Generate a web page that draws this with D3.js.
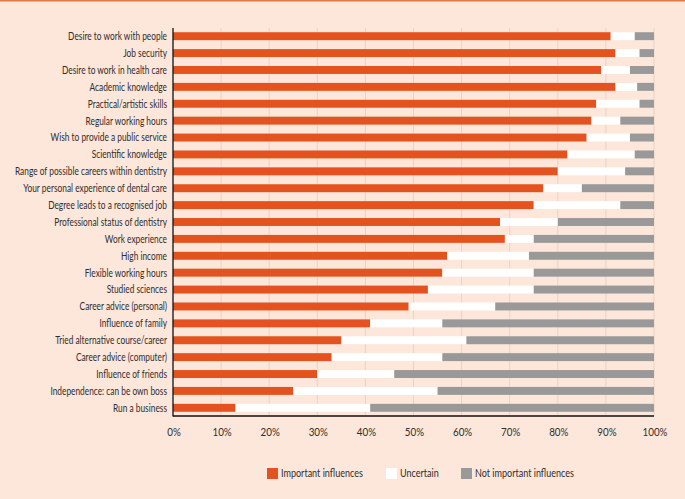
<!DOCTYPE html>
<html>
<head>
<meta charset="utf-8">
<script src="https://cdn.jsdelivr.net/npm/d3@7"></script>
<style>
  body { margin: 0; background: #fde6da; }
  svg { display: block; }
  .lbl { font-family: Lato, "Noto Sans", sans-serif; fill: #2e2e2e; }
</style>
</head>
<body>
<script>
// categories, top to bottom
var categories = [
  "Desire to work with people", "Job security", "Desire to work in health care",
  "Academic knowledge", "Practical/artistic skills", "Regular working hours",
  "Wish to provide a public service", "Scientific knowledge",
  "Range of possible careers within dentistry", "Your personal experience of dental care",
  "Degree leads to a recognised job", "Professional status of dentistry", "Work experience",
  "High income", "Flexible working hours", "Studied sciences", "Career advice (personal)",
  "Influence of family", "Tried alternative course/career", "Career advice (computer)",
  "Influence of friends", "Independence: can be own boss", "Run a business"
];

// percentages
var important    = [91, 92, 89, 92, 88, 87, 86, 82, 80, 77, 75, 68, 69, 57, 56, 53, 49, 41, 35, 33, 30, 25, 13];
var uncertain    = [5, 5, 6, 4.5, 9, 6, 9, 14, 14, 8, 18, 12, 6, 17, 19, 22, 18, 15, 26, 23, 16, 30, 28];
var notImportant = [4, 3, 5, 3.5, 3, 7, 5, 4, 6, 15, 7, 20, 25, 26, 25, 25, 33, 44, 39, 44, 54, 45, 59];

var seriesNames  = ["Important influences", "Uncertain", "Not important influences"];
var seriesColors = ["#e4531f", "#ffffff", "#999999"];
var tickValues   = [0, 10, 20, 30, 40, 50, 60, 70, 80, 90, 100];

var W = 685, H = 499;
var margin = {left: 173, right: 31, top: 28, bottom: 83};
var width = W - margin.left - margin.right,
    height = H - margin.top - margin.bottom;

var svg = d3.select("body").append("svg")
    .attr("width", W)
    .attr("height", H);

// the reference uses a condensed face; squeeze a normal one to the same width
function squeeze(sample, size, target) {
    var t = svg.append("text").attr("class", "lbl").style("font-size", size + "px").text(sample);
    var w = t.node().getComputedTextLength();
    t.remove();
    return target / w;
}
var kCat = squeeze("Desire to work with people", 11, 99);
var kTick = squeeze("100%", 11.5, 25);
var kLeg = squeeze("Important influences", 11, 82);

// top rule
svg.append("rect")
    .attr("x", 0).attr("y", 0)
    .attr("width", W).attr("height", 1.5)
    .attr("fill", "#e0794c");

var g = svg.append("g")
    .attr("transform", "translate(" + margin.left + "," + margin.top + ")");

var x = d3.scaleLinear().domain([0, 100]).range([0, width]);
var y = d3.scaleBand().domain(categories).range([0, height]).paddingInner(0.53).paddingOuter(0.25);

// gridlines
g.append("g")
    .selectAll("line")
    .data(tickValues.slice(1))
    .join("line")
        .attr("x1", function(d) { return x(d); })
        .attr("x2", function(d) { return x(d); })
        .attr("y1", 0)
        .attr("y2", height)
        .attr("stroke", "#ecd2c4")
        .attr("stroke-width", 1);

// stack the rows
var rows = categories.map(function(c, i) {
    return {name: c, v: [important[i], uncertain[i], notImportant[i]]};
});

rows.forEach(function(r) {
    var acc = 0;
    r.segs = r.v.map(function(v, k) {
        var s = {x0: acc, x1: acc + v, k: k};
        acc += v;
        return s;
    });
});

var rowG = g.selectAll(".row")
    .data(rows)
    .join("g")
        .attr("class", "row")
        .attr("transform", function(d) { return "translate(0," + y(d.name) + ")"; });

rowG.selectAll("rect")
    .data(function(d) { return d.segs; })
    .join("rect")
        .attr("x", function(d) { return x(d.x0); })
        .attr("width", function(d) { return x(Math.min(d.x1, 100)) - x(d.x0); })
        .attr("height", y.bandwidth())
        .attr("fill", function(d) { return seriesColors[d.k]; });

// category labels
g.selectAll(".cat")
    .data(categories)
    .join("text")
        .attr("class", "lbl cat")
        .attr("transform", function(d) {
            return "translate(-6," + (y(d) + y.bandwidth() / 2) + ") scale(" + kCat + ",1)";
        })
        .attr("dy", "0.35em")
        .attr("text-anchor", "end")
        .style("font-size", "11px")
        .text(function(d) { return d; });

// axes lines
g.append("line")
    .attr("x1", 0).attr("x2", 0)
    .attr("y1", 0).attr("y2", height + 0.5)
    .attr("stroke", "#111").attr("stroke-width", 1.3);
g.append("line")
    .attr("x1", 0).attr("x2", width)
    .attr("y1", height).attr("y2", height)
    .attr("stroke", "#111").attr("stroke-width", 1.3);

// tick labels
g.selectAll(".tick-lbl")
    .data(tickValues)
    .join("text")
        .attr("class", "lbl tick-lbl")
        .attr("transform", function(d) {
            return "translate(" + (x(d) + 1) + "," + (height + 16) + ") scale(" + kTick + ",1)";
        })
        .attr("dy", "0.35em")
        .attr("text-anchor", "middle")
        .style("font-size", "11.5px")
        .text(function(d) { return d + "%"; });

// legend
var legendX = [267, 386, 461];
var leg = svg.append("g").attr("transform", "translate(0,468)");
var item = leg.selectAll("g")
    .data(seriesNames)
    .join("g")
        .attr("transform", function(d, i) { return "translate(" + legendX[i] + ",0)"; });
item.append("rect")
    .attr("width", 11).attr("height", 11)
    .attr("fill", function(d, i) { return seriesColors[i]; });
item.append("text")
    .attr("class", "lbl")
    .attr("transform", "translate(14,5.5) scale(" + kLeg + ",1)")
    .attr("dy", "0.35em")
    .style("font-size", "11px")
    .text(function(d) { return d; });
</script>
</body>
</html>
